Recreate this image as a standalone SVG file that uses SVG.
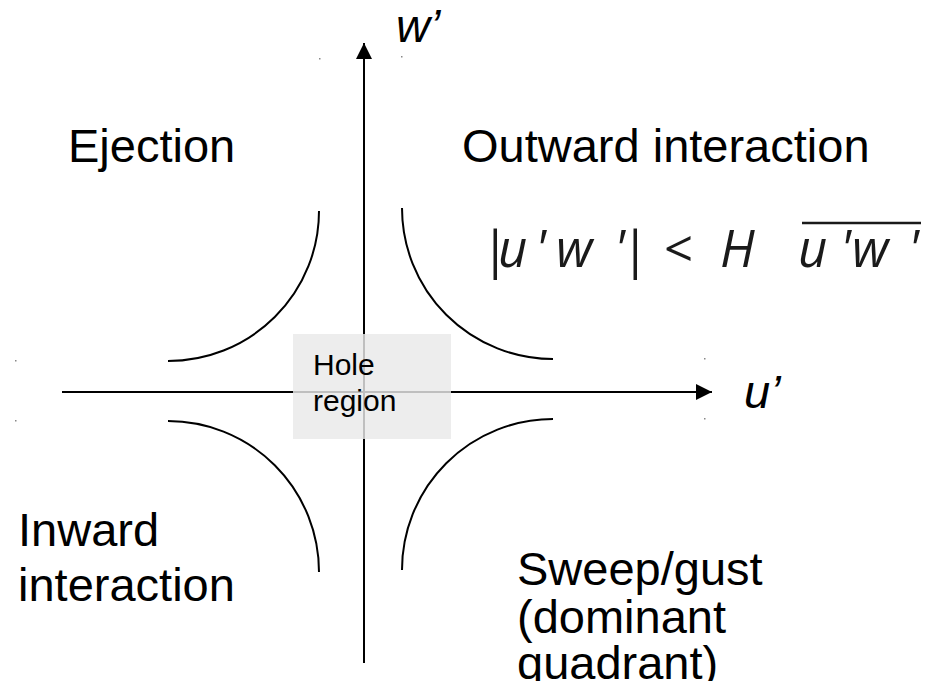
<svg xmlns="http://www.w3.org/2000/svg" width="927" height="681" viewBox="0 0 927 681">
<style>
.lbl{font-family:"Liberation Sans",Arial,sans-serif;font-size:47px;fill:#000}
.ax{font-family:"Liberation Sans",Arial,sans-serif;font-size:47px;font-style:italic;fill:#000}
.m{font-family:"Open Sans","DejaVu Sans",sans-serif;font-size:51px;font-style:italic;fill:#1a1a1a}
.bar{font-size:52px;font-style:normal}
.hole{font-family:"Liberation Sans",Arial,sans-serif;font-size:30px;fill:#000}
.curve{fill:none;stroke:#000;stroke-width:2}
.axis{fill:none;stroke:#000;stroke-width:2}
.dot{fill:#888}
</style>
<defs>
<marker id="arr" viewBox="0 0 16 16" refX="16" refY="8" markerWidth="16" markerHeight="16" markerUnits="userSpaceOnUse" orient="auto">
<path d="M0,0 L16,8 L0,16 Z" fill="#000"/>
</marker>
</defs>
<rect width="927" height="681" fill="#fff"/>
<g id="dots">
<rect class="dot" x="319" y="58" width="1.5" height="1.5"/>
<rect class="dot" x="401" y="56" width="1.5" height="1.5"/>
<rect class="dot" x="15" y="360" width="1.5" height="1.5"/>
<rect class="dot" x="15" y="420" width="1.5" height="1.5"/>
<rect class="dot" x="704" y="358" width="1.5" height="1.5"/>
<rect class="dot" x="704" y="418" width="1.5" height="1.5"/>
</g>
<g id="connectors">
<line class="axis" x1="62" y1="392" x2="712" y2="392" marker-end="url(#arr)"/>
<line class="axis" x1="364" y1="663" x2="364" y2="43" marker-end="url(#arr)"/>
</g>
<g id="curves">
<path class="curve" d="M319,211 A151,150 0 0 1 168,361"/>
<path class="curve" d="M402,208 A151,151 0 0 0 553,359"/>
<path class="curve" d="M168,421 A151,151 0 0 1 319,572"/>
<path class="curve" d="M553,419 A151,151 0 0 0 402,570"/>
</g>
<g id="hole-region">
<rect x="293" y="334" width="158" height="105" fill="#e9e9e9" fill-opacity="0.82"/>
<text class="hole" x="313" y="375">Hole</text>
<text class="hole" x="313" y="411">region</text>
</g>
<g id="axis-labels">
<text class="ax" x="396" y="42">w’</text>
<text class="ax" x="744" y="408">u’</text>
</g>
<g id="ejection"><text class="lbl" x="68" y="162">Ejection</text></g>
<g id="outward"><text class="lbl" x="462" y="162">Outward interaction</text></g>
<g id="inward">
<text class="lbl" x="18" y="546">Inward</text>
<text class="lbl" x="18" y="601">interaction</text>
</g>
<g id="sweep">
<text class="lbl" x="517" y="585">Sweep/gust</text>
<text class="lbl" x="517" y="633">(dominant</text>
<text class="lbl" x="517" y="679">quadrant)</text>
</g>
<g id="formula">
<line x1="802" y1="223" x2="921" y2="223" stroke="#1a1a1a" stroke-width="2.5"/>
<text class="m" y="267"><tspan class="bar" x="481" y="268">|</tspan><tspan x="498" y="267">u</tspan><tspan x="535">'</tspan><tspan x="556">w</tspan><tspan x="614">'</tspan><tspan class="bar" x="621" y="268">|</tspan><tspan x="664" y="267" font-style="normal">&lt;</tspan><tspan x="720">H</tspan><tspan x="798">u</tspan><tspan x="840">'</tspan><tspan x="852">w</tspan><tspan x="908">'</tspan></text>
</g>
</svg>
